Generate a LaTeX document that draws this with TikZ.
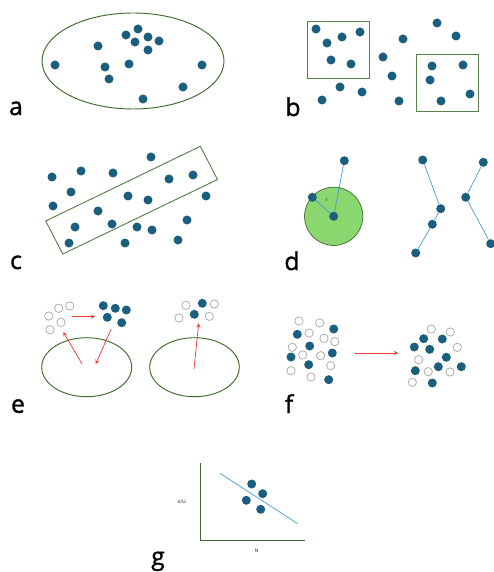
\documentclass[tikz,border=0pt]{standalone}
\usepackage{fontspec}
\setmainfont{Open Sans}
\newfontfamily\tagfont[FakeBold=1.3]{Open Sans}
\usetikzlibrary{positioning}
\definecolor{dotblue}{HTML}{1B5E7D}
\definecolor{ringgreen}{HTML}{3E6B2C}
\definecolor{boxgreen}{HTML}{5A7F4A}
\definecolor{discgreen}{HTML}{8AD66F}
\definecolor{linkblue}{HTML}{4A9AD4}
\definecolor{arrred}{HTML}{F03535}

\begin{document}
\begin{tikzpicture}[
    x=0.03cm, y=-0.03cm,
    every node/.style={font=\small},
    dot/.style={circle, fill=dotblue, inner sep=0pt, minimum size=0.27cm},
    hollow/.style={circle, draw=gray!70, line width=0.6pt, fill=white, inner sep=0pt, minimum size=0.25cm},
    ring/.style={draw=ringgreen, line width=0.8pt},
    frame/.style={draw=boxgreen, line width=0.8pt},
    link/.style={draw=linkblue, line width=0.6pt},
    arr/.style={->, >=stealth, draw=arrred, line width=0.6pt},
    tag/.style={font=\tagfont\fontsize{21}{21}\selectfont, anchor=base},
    tiny/.style={font=\fontsize{4}{4}\selectfont, inner sep=0pt}
  ]
    \useasboundingbox (0,0) rectangle (493,572);

    % a: one large group
    \draw[ring] (133,61) ellipse [x radius=91, y radius=48];
    \foreach \px/\py [count=\i] in {138/29, 126/35, 148/37, 135/42, 159/41, 148/50,
        98/46, 55/65, 105/67, 129/64, 109/79, 202/65, 183/87, 143/99}
      \node[dot] (a\i) at (\px,\py) {};
    \node[tag] (la) at (16,115) {a};

    % b: two square windows
    \draw[frame] (307,21) rectangle (369,78);
    \draw[frame] (416,54) rectangle (478,111);
    \foreach \px/\py [count=\i] in {316/29, 327/43, 342/37, 360/32, 331/60, 351/64,
        340/87, 362/92, 322/100, 403/39, 383/57, 392/76, 399/101, 437/23, 456/36,
        432/66, 463/65, 430/80, 470/94, 441/101}
      \node[dot] (b\i) at (\px,\py) {};
    \node[tag] (lb) at (293,116) {b};

    % c: tilted strip
    \draw[frame] (45.7,221) -- (200.3,146.3) -- (217.5,179.5) -- (62.8,254) -- cycle;
    \foreach \px/\py [count=\i] in {52/177, 81/171, 113/173, 151/157, 71/192, 53/206,
        169/179, 193/175, 128/196, 148/200, 206/196, 98/211, 75/227, 112/224,
        137/227, 152/230, 187/220, 69/243, 125/243, 178/240}
      \node[dot] (c\i) at (\px,\py) {};
    \node[tag] (lc) at (16,269) {c};

    % d: radius and chains
    \node[circle, draw=ringgreen, fill=discgreen, line width=0.6pt, minimum size=1.75cm] (disc) at (333.7,216.3) {};
    \node[dot] (d0) at (333.7,216.3) {};
    \node[dot] (d1) at (312.3,197.3) {};
    \node[dot] (d2) at (344.3,160.7) {};
    \draw[link] (d0) -- (d1);
    \draw[link] (d0) -- (d2);
    \node[tiny] (r) at (326.5,200.5) {r};
    \node[dot] (p1) at (422.7,160) {};
    \node[dot] (p2) at (440.7,208.7) {};
    \node[dot] (p3) at (432.3,224.3) {};
    \node[dot] (p4) at (415.7,253) {};
    \draw[link] (p1) -- (p2) -- (p3) -- (p4);
    \node[dot] (q1) at (483.3,162.3) {};
    \node[dot] (q2) at (465.7,197.3) {};
    \node[dot] (q3) at (490.7,243.7) {};
    \draw[link] (q1) -- (q2) -- (q3);
    \node[tag] (ld) at (292,270) {d};

    % e: exchange with the groups
    \draw[ring] (86.7,367.2) ellipse [x radius=45, y radius=29.5];
    \draw[ring] (194.5,367.2) ellipse [x radius=44.8, y radius=29.5];
    \foreach \px/\py [count=\i] in {58.7/308.3, 69.7/306, 48.7/316, 61/322.3, 50/329.7}
      \node[hollow] (eo\i) at (\px,\py) {};
    \foreach \px/\py [count=\i] in {103.3/305.7, 115.3/308.3, 126.3/310, 107.3/317.3, 121.7/322.7}
      \node[dot] (ef\i) at (\px,\py) {};
    \foreach \px/\py [count=\i] in {186/305.3, 214.3/304, 179/318, 209.3/316.3}
      \node[hollow] (go\i) at (\px,\py) {};
    \node[dot] (gf1) at (202.3,303.3) {};
    \node[dot] (gf2) at (194.3,314.3) {};
    \coordinate (e1s) at (71.7,316.7);
    \coordinate (e1t) at (95,316.7);
    \coordinate (e2s) at (82,364);
    \coordinate (e2t) at (63.3,332);
    \coordinate (e3s) at (111,329.3);
    \coordinate (e3t) at (95.7,364);
    \coordinate (e4s) at (194,369);
    \coordinate (e4t) at (198.7,323.3);
    \draw[arr] (e1s) -- (e1t);
    \draw[arr] (e2s) -- (e2t);
    \draw[arr] (e3s) -- (e3t);
    \draw[arr] (e4s) -- (e4t);
    \node[tag] (le) at (18,412.7) {e};

    % f: regrouping
    \foreach \px/\py [count=\i] in {299/321, 319.7/323, 309/333, 324/338.3, 334.7/341.7,
        292.3/347.3, 302.7/355, 320.7/355.7, 330.7/365.7, 291/370.7, 311/377}
      \node[hollow] (fo\i) at (\px,\py) {};
    \foreach \px/\py [count=\i] in {333.7/329, 297.3/334.3, 309.7/346, 291/357, 332.3/353,
        308.7/364.7, 328.7/379.7}
      \node[dot] (ff\i) at (\px,\py) {};
    \foreach \px/\py [count=\i] in {431.3/329, 450.3/332, 457.3/347.3, 418.7/359.7,
        428.3/371.7, 450/372, 412.3/382.3}
      \node[hollow] (ho\i) at (\px,\py) {};
    \foreach \px/\py [count=\i] in {423.7/338.7, 442.3/339, 414.3/347, 429.7/349.3,
        446.3/357.3, 415.3/370.7, 438.3/366.7, 461.3/366.7, 432.3/383}
      \node[dot] (hf\i) at (\px,\py) {};
    \coordinate (fs) at (354.7,353);
    \coordinate (ft) at (398,353);
    \draw[arr] (fs) -- (ft);
    \node[tag] (lf) at (289,413) {f};

    % g: trend plot
    \coordinate (ytop) at (200.3,462.7);
    \coordinate (orig) at (200.3,540);
    \coordinate (xend) at (305.3,540);
    \draw[ring] (ytop) -- (orig) -- (xend);
    \coordinate (fit1) at (220,473.3);
    \coordinate (fit2) at (297.7,523.7);
    \draw[link] (fit1) -- (fit2);
    \node[dot] (g1) at (251.7,484) {};
    \node[dot] (g2) at (262.7,493.7) {};
    \node[dot] (g3) at (246.3,500.3) {};
    \node[dot] (g4) at (260.7,509.3) {};
    \node[tiny] (ylab) at (181.7,501.7) {n/U};
    \node[tiny] (xlab) at (256.7,550.7) {N};
    \node[tag] (lg) at (158,565) {g};

  \end{tikzpicture}
\end{document}
